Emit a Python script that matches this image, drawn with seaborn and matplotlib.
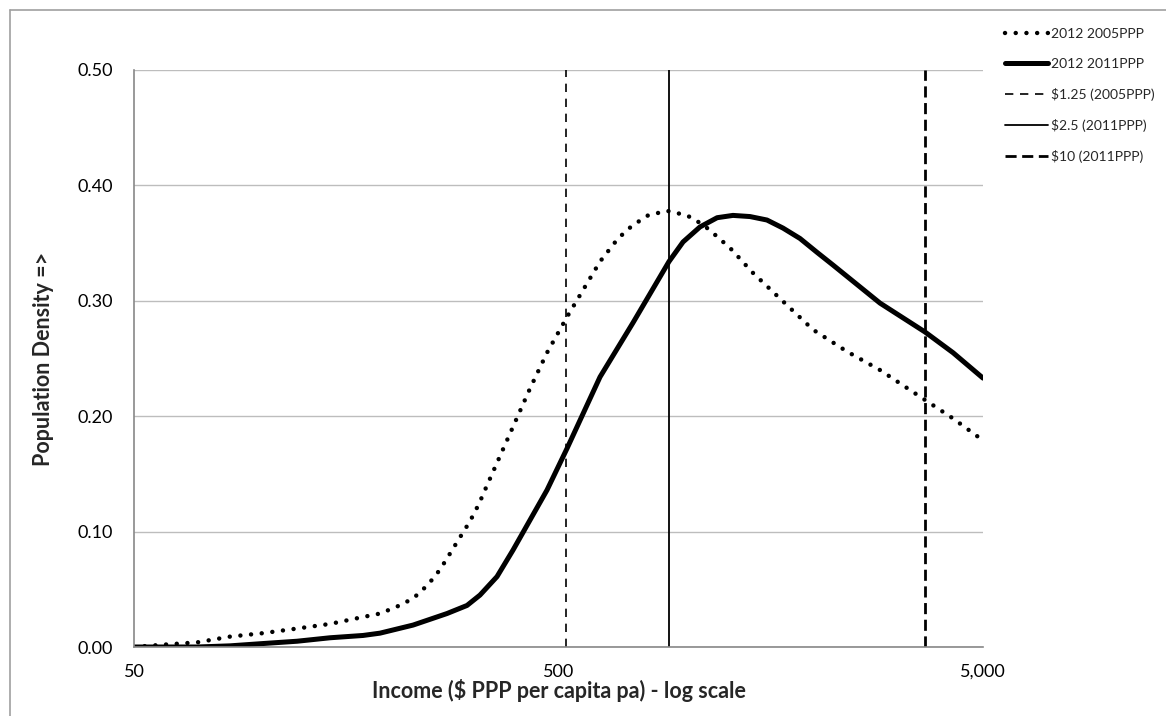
import matplotlib
matplotlib.use("Agg")
import matplotlib.pyplot as plt
import matplotlib.ticker as mticker
from matplotlib.lines import Line2D
import seaborn as sns
import pandas as pd

# ---- data ----
income_2005ppp = [50, 58.5, 70.4, 84.2, 100.7, 121.1, 144.8, 173.2, 189.9, 208.2, 227.2, 246.4,
                  262.9, 277.6, 293.0, 309.4, 324.8, 339.2, 384.4, 428.4, 469.8, 523.6, 626.3,
                  690.5, 745.1, 812.5, 900.6, 1004, 1095, 1188, 1282, 1428, 1662, 1988, 2392,
                  2860, 3420, 4251, 5000]
dens_2005ppp = [0.000, 0.002, 0.004, 0.009, 0.012, 0.016, 0.020, 0.026, 0.029, 0.035, 0.042,
                0.054, 0.067, 0.081, 0.095, 0.109, 0.124, 0.140, 0.185, 0.224, 0.255, 0.286,
                0.334, 0.354, 0.365, 0.374, 0.378, 0.374, 0.366, 0.355, 0.344, 0.325, 0.302,
                0.275, 0.256, 0.240, 0.221, 0.198, 0.179]
income_2011ppp = [50, 58.5, 70.4, 84.2, 100.7, 121.1, 144.8, 173.2, 189.9, 227.2, 273.1, 304.4,
                  326.6, 358.2, 390.7, 428.4, 469.8, 523.6, 626.3, 749.0, 910.4, 982.6, 1077,
                  1182, 1288, 1413, 1549, 1690, 1853, 2032, 2216, 2860, 3650, 4251, 5000]
dens_2011ppp = [0.000, 0.000, 0.000, 0.001, 0.003, 0.005, 0.008, 0.010, 0.012, 0.019, 0.029,
                0.036, 0.045, 0.061, 0.084, 0.110, 0.136, 0.172, 0.234, 0.281, 0.334, 0.351,
                0.364, 0.372, 0.374, 0.373, 0.370, 0.363, 0.354, 0.342, 0.331, 0.298, 0.273,
                0.255, 0.233]
series_names = ["2012 2005PPP", "2012 2011PPP"]
poverty_lines = [522, 912.5, 3650]
poverty_labels = ["$1.25 (2005PPP)", "$2.5 (2011PPP)", "$10 (2011PPP)"]
x_ticks = [50, 500, 5000]
x_tick_labels = ["50", "500", "5,000"]
y_ticks = [0.0, 0.1, 0.2, 0.3, 0.4, 0.5]

df = pd.DataFrame({
    "income": income_2005ppp + income_2011ppp,
    "density": dens_2005ppp + dens_2011ppp,
    "series": [series_names[0]] * len(income_2005ppp) + [series_names[1]] * len(income_2011ppp),
})

sns.set_style("white")
plt.rcParams["font.family"] = ["Lato", "DejaVu Sans"]

fig = plt.figure(figsize=(11.66, 7.16), dpi=100)
ax = fig.add_axes([134 / 1166, 1 - 647 / 716, (983 - 134) / 1166, (647 - 70) / 716])

d1 = df[df.series == series_names[0]]
d2 = df[df.series == series_names[1]]
sns.lineplot(data=d1, x="income", y="density", ax=ax, color="black", linewidth=3.2,
             linestyle=(0, (0.01, 2.4)), dash_capstyle="round", label=series_names[0],
             estimator=None, sort=False)
sns.lineplot(data=d2, x="income", y="density", ax=ax, color="black", linewidth=3.6,
             label=series_names[1], estimator=None, sort=False, solid_joinstyle="round")

ax.axvline(poverty_lines[0], color="black", linewidth=1.2, linestyle=(0, (5, 4)),
           label=poverty_labels[0])
ax.axvline(poverty_lines[1], color="black", linewidth=1.3, linestyle="-",
           label=poverty_labels[1])
ax.axvline(poverty_lines[2], color="black", linewidth=2.0, linestyle=(0, (4, 2)),
           label=poverty_labels[2])

ax.set_xscale("log")
ax.set_xlim(50, 5000)
ax.set_ylim(0, 0.5)
ax.xaxis.set_major_locator(mticker.FixedLocator(x_ticks))
ax.xaxis.set_major_formatter(mticker.FixedFormatter(x_tick_labels))
ax.xaxis.set_minor_locator(mticker.NullLocator())
ax.set_yticks(y_ticks)
ax.yaxis.set_major_formatter(mticker.FormatStrFormatter("%.2f"))

ax.grid(axis="y", color="#bdbdbd", linewidth=1.0)
ax.grid(axis="x", visible=False)
ax.set_axisbelow(True)
for s in ["top", "right"]:
    ax.spines[s].set_visible(False)
for s in ["left", "bottom"]:
    ax.spines[s].set_color("#888888")
    ax.spines[s].set_linewidth(1.2)
ax.tick_params(axis="both", which="major", direction="out", length=5, color="#888888",
               width=1, labelsize=13, colors="black")
ax.tick_params(axis="x", pad=7)
ax.tick_params(axis="y", pad=10)

ax.set_xlabel("Income ($ PPP per capita pa) - log scale", fontsize=15.5, fontweight="bold")
ax.set_ylabel("Population Density =>", fontsize=15.5, fontweight="bold")
ax.xaxis.set_label_coords(0.5, (647 - 690) / 577)
ax.xaxis.label.set_va("center")
ax.yaxis.set_label_coords((44 - 134) / 849, 0.5)
ax.yaxis.label.set_va("center")
ax.yaxis.label.set_ha("center")

handles, labels = ax.get_legend_handles_labels()
if ax.get_legend() is not None:
    ax.get_legend().remove()
leg = fig.legend(handles, labels, loc="upper left", bbox_to_anchor=(1005 / 1166, 1 - 28 / 716),
                 frameon=False, fontsize=10, handlelength=3.1, handletextpad=0.2,
                 labelspacing=1.3, borderaxespad=0, borderpad=0)

# outer chart frame
fig.add_artist(Line2D([10 / 1166, 1.0], [1 - 10 / 716, 1 - 10 / 716],
                      transform=fig.transFigure, color="#a0a0a0", linewidth=1.2))
fig.add_artist(Line2D([10 / 1166, 10 / 1166], [0.0, 1 - 10 / 716],
                      transform=fig.transFigure, color="#a0a0a0", linewidth=1.2))

fig.savefig("out.png", dpi=100)
